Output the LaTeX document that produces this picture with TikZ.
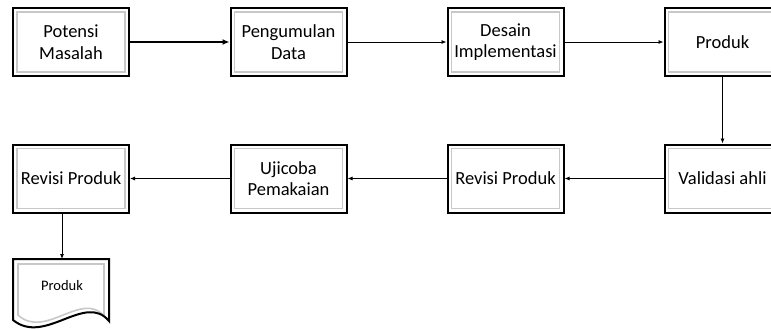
\documentclass[tikz,border=0pt]{standalone}
\usepackage{fontspec}
\setmainfont{Carlito}
\usetikzlibrary{arrows.meta,calc}

\tikzset{
  stagebox/.style={draw=black, line width=2pt, minimum width=116pt, minimum height=68pt,
    inner sep=0pt, align=center, font=\fontsize{18.5}{21.5}\selectfont},
  innerline/.style={draw={rgb,255:red,200;green,200;blue,200}, line width=1.6pt},
  flowarrow/.style={line width=0.8pt, -{Latex[length=5pt,width=4pt]}},
  mainarrow/.style={line width=1.4pt, -{Latex[length=7pt,width=6pt]}}
}

\begin{document}
\begin{tikzpicture}[x=1pt,y=1pt,yscale=-1,xscale=1]
\clip (0,0) rectangle (771,329);

% first row
\node[stagebox] (potensi) at (71,42) {Potensi\\Masalah};
\node[stagebox] (data) at (288.5,42) {Pengumulan\\Data};
\node[stagebox] (desain) at (505.5,42) {Desain\\Implementasi};
\node[stagebox] (produk) at (722.5,42) {Produk};

% second row
\node[stagebox] (revisiakhir) at (71,178.5) {Revisi Produk};
\node[stagebox] (ujicoba) at (288.5,178.5) {Ujicoba\\Pemakaian};
\node[stagebox] (revisi) at (505.5,178.5) {Revisi Produk};
\node[stagebox] (validasi) at (722.5,178.5) {Validasi ahli};

% inner grey frames
\foreach \n in {potensi,data,desain,produk,revisiakhir,ujicoba,revisi,validasi}
  \draw[innerline] ($(\n.north west)+(5,5)$) rectangle ($(\n.south east)+(-5,-5)$);

%Shape: Document
\draw[innerline] (18,264) -- (104,264) -- (104,316) .. controls (82,290) and (45,340) .. (18,315) -- cycle;
\draw[line width=2pt] (13,259) -- (109,259) -- (109,321) .. controls (85,292) and (45,346) .. (13,320) -- cycle;
\coordinate (doctop) at (62,259);
\node[font=\fontsize{14.5}{17}\selectfont, inner sep=0.75pt] (hasil) at (62,286) {Produk};

% connectors
\draw[mainarrow] (potensi) -- (data);
\draw[flowarrow] (data) -- (desain);
\draw[flowarrow] (desain) -- (produk);
\draw[flowarrow] (produk) -- (validasi);
\draw[flowarrow] (validasi) -- (revisi);
\draw[flowarrow] (revisi) -- (ujicoba);
\draw[flowarrow] (ujicoba) -- (revisiakhir);
\draw[flowarrow] (revisiakhir.south -| doctop) -- (doctop);

\end{tikzpicture}
\end{document}
